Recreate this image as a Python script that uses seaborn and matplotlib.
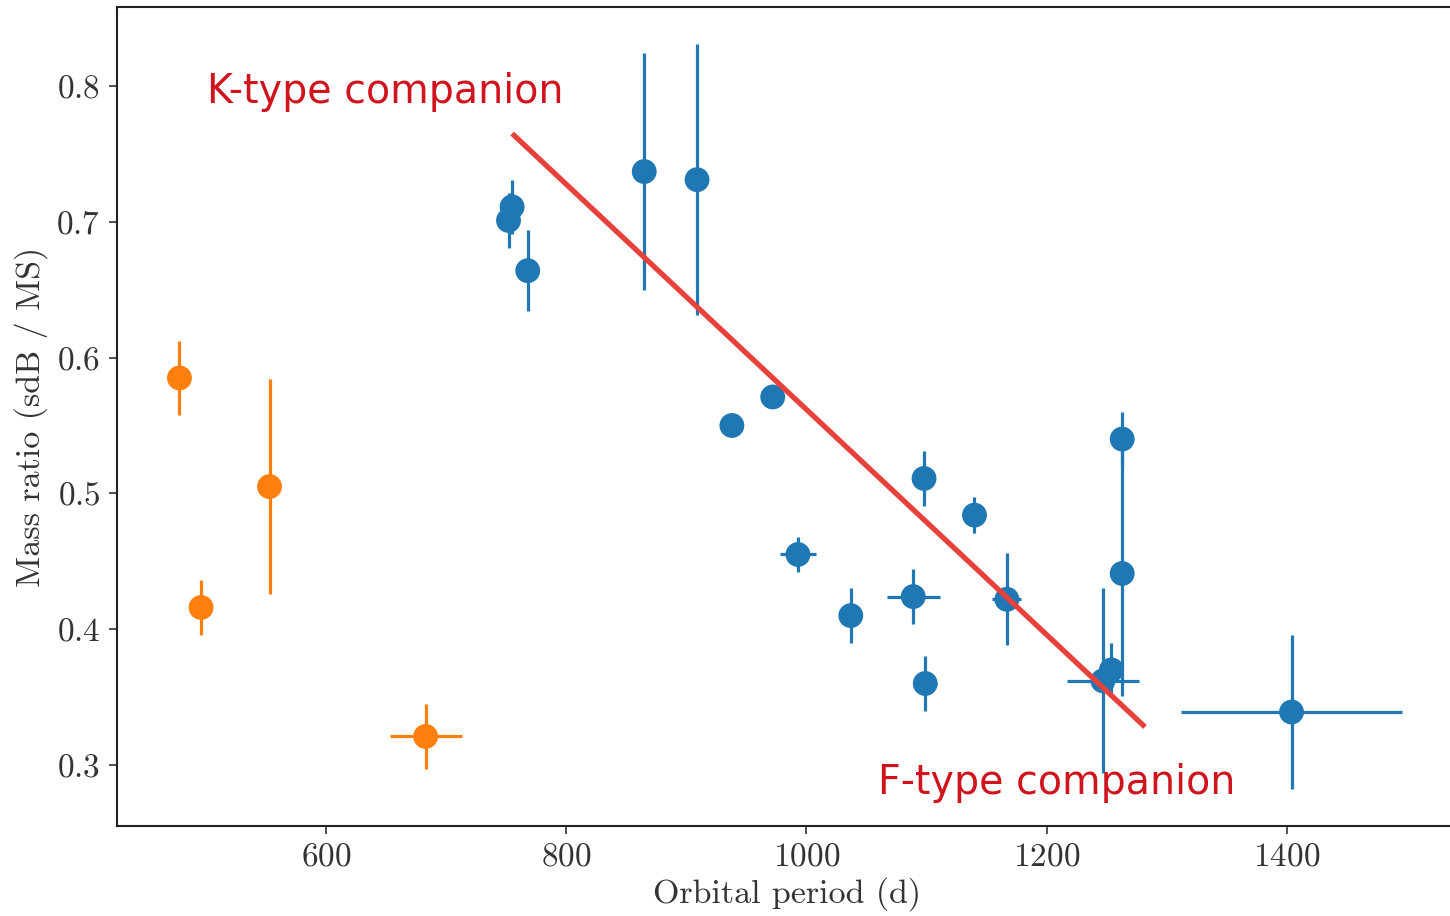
import pandas as pd
import seaborn as sns
import matplotlib.pyplot as plt

# orbital period (d), mass ratio and errors
k_period = [478, 496, 553, 683]
k_period_err = [0, 0, 0, 30]
k_q = [0.585, 0.416, 0.505, 0.321]
k_q_err = [0.027, 0.020, 0.079, 0.024]

f_period = [752, 755, 768, 865, 909, 938, 972, 993, 1037, 1089, 1098, 1099,
            1140, 1167, 1247, 1254, 1263, 1263, 1404]
f_period_err = [0, 0, 4, 0, 0, 0, 0, 15, 0, 22, 0, 10,
                0, 12, 30, 0, 0, 0, 92]
f_q = [0.701, 0.711, 0.664, 0.737, 0.731, 0.550, 0.571, 0.455, 0.410, 0.424,
       0.511, 0.360, 0.484, 0.422, 0.362, 0.370, 0.441, 0.540, 0.339]
f_q_err = [0.020, 0.020, 0.030, 0.087, 0.100, 0.007, 0.007, 0.013, 0.020, 0.020,
           0.020, 0.020, 0.013, 0.034, 0.068, 0.020, 0.090, 0.020, 0.057]

trend_x = [755, 1282]
trend_y = [0.765, 0.328]

df = pd.DataFrame({
    'period': k_period + f_period,
    'period_err': k_period_err + f_period_err,
    'q': k_q + f_q,
    'q_err': k_q_err + f_q_err,
    'group': ['K'] * len(k_period) + ['F'] * len(f_period),
})
colors = {'F': '#1f77b4', 'K': '#ff7f0e'}

plt.rcParams['font.family'] = 'serif'
plt.rcParams['font.serif'] = ['cmr10']
plt.rcParams['axes.formatter.use_mathtext'] = True

fig = plt.figure(figsize=(14.5, 9.16), dpi=100)
ax = fig.add_axes([0.0807, 0.0983, 0.9243, 0.8941])

for g, sub in df.groupby('group'):
    ax.errorbar(sub['period'], sub['q'], xerr=sub['period_err'], yerr=sub['q_err'],
                fmt='none', ecolor=colors[g], elinewidth=2.3, capsize=0, zorder=2)
sns.scatterplot(data=df, x='period', y='q', hue='group', palette=colors,
                s=320, edgecolor='none', legend=False, ax=ax, zorder=3)

ax.plot(trend_x, trend_y, color='#e8413c', lw=3.8, solid_capstyle='butt', zorder=4)

ax.text(501, 0.7875, 'K-type companion', color='#d0141e', fontsize=28.5,
        family='DejaVu Sans', va='baseline', ha='left')
ax.text(1060, 0.2786, 'F-type companion', color='#d0141e', fontsize=28.5,
        family='DejaVu Sans', va='baseline', ha='left')

ax.set_xlim(426, 1542)
ax.set_ylim(0.2551, 0.8582)
ax.set_xticks([600, 800, 1000, 1200, 1400])
ax.set_yticks([0.3, 0.4, 0.5, 0.6, 0.7, 0.8])
ax.tick_params(labelsize=24, length=6, width=1.2, direction='out', colors='#333333', pad=6)
ax.set_xlabel('Orbital period (d)', fontsize=24.5, color='#333333', labelpad=4)
ax.set_ylabel('Mass ratio (sdB / MS)', fontsize=24.5, color='#333333', labelpad=6)
for sp in ax.spines.values():
    sp.set_linewidth(1.5)
    sp.set_color('#222222')

fig.savefig('out.png', dpi=100)
